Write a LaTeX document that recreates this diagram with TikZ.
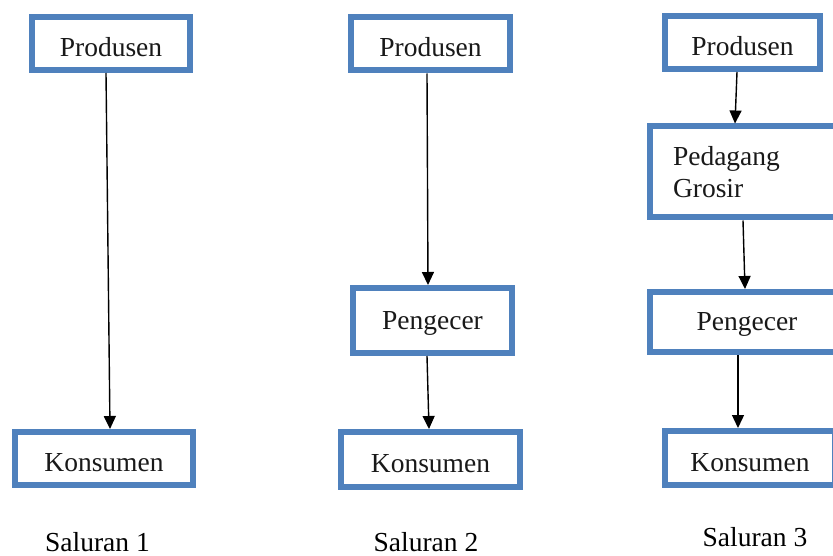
\documentclass[tikz,border=0pt]{standalone}
\usepackage{fontspec}
\setmainfont{Liberation Serif}
\usetikzlibrary{arrows.meta}
\definecolor{boxblue}{HTML}{4F81BD}
\tikzset{
  chbox/.style={draw=boxblue, line width=6pt, rectangle, inner sep=0pt, font=\fontsize{27.5}{32}\selectfont, text=black!90},
  lowtext/.style={text height=26pt, text depth=0pt},
  midtext/.style={text height=17.5pt, text depth=0pt},
  arr/.style={line width=1.4pt, -{Triangle[width=12pt,length=13pt]}},
  captext/.style={font=\fontsize{27.5}{32}\selectfont, inner sep=0pt, text depth=0pt}
}
\begin{document}
\begin{tikzpicture}[x=1pt,y=-1pt]
\useasboundingbox (0,0) rectangle (833,556);
\clip (0,0) rectangle (833,556);
% column 1
\node[chbox, lowtext, minimum width=158pt, minimum height=53pt] (p1) at (111,43.5) {Produsen};
\node[chbox, lowtext, minimum width=178pt, minimum height=53pt] (k1) at (104,458.5) {Konsumen};
\node[captext] (s1) at (97.5,541.5) {Saluran 1};
% column 2
\node[chbox, lowtext, minimum width=159pt, minimum height=53pt] (p2) at (430.5,44) {Produsen};
\node[chbox, midtext, minimum width=159pt, minimum height=65pt] (g2) at (432.5,320.5) {Pengecer};
\node[chbox, lowtext, minimum width=179pt, minimum height=55pt] (k2) at (430.5,459.5) {Konsumen};
\node[captext] (s2) at (426,541.5) {Saluran 2};
% column 3
\node[chbox, lowtext, minimum width=155pt, minimum height=53pt] (p3) at (742.5,42.5) {Produsen};
\node[chbox, minimum height=91pt, inner xsep=23pt, text width=148pt, align=left] (pg3) at (747,172) {Pedagang\\Grosir};
\node[chbox, midtext, minimum width=194pt, minimum height=60pt] (g3) at (747,322) {Pengecer};
\node[chbox, lowtext, minimum width=170pt, minimum height=54pt] (k3) at (750,458) {Konsumen};
\node[captext] (s3) at (755,537) {Saluran 3};
% arrows
\draw[arr] ([xshift=-5pt]p1.south) -- ([xshift=6pt]k1.north);
\draw[arr] ([xshift=-3.5pt]p2.south) -- ([xshift=-4.5pt]g2.north);
\draw[arr] ([xshift=-5.5pt]g2.south) -- ([xshift=-1.5pt]k2.north);
\draw[arr] ([xshift=-5.5pt]p3.south) -- ([xshift=-12pt]pg3.north);
\draw[arr] ([xshift=-4pt]pg3.south) -- ([xshift=-2pt]g3.north);
\draw[arr] ([xshift=-9pt]g3.south) -- ([xshift=-12pt]k3.north);
\end{tikzpicture}
\end{document}
